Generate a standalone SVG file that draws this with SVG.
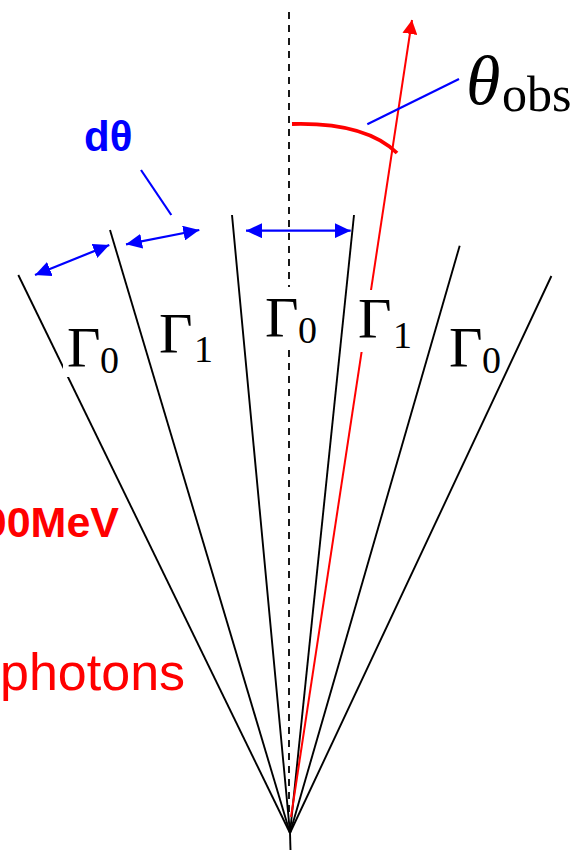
<svg xmlns="http://www.w3.org/2000/svg" width="574" height="850" viewBox="0 0 574 850">
  <style>
    .ray { stroke: #000; stroke-width: 1.9; fill: none; }
    .axis { stroke: #000; stroke-width: 1.8; stroke-dasharray: 7 6; fill: none; }
    .dim { stroke: #0000ff; stroke-width: 2.2; fill: none; }
    .gam { font-family: "Liberation Serif", "DejaVu Serif", serif; font-size: 58px; fill: #000; }
    .sub { font-family: "Liberation Serif", "DejaVu Serif", serif; font-size: 38px; fill: #000; }
    .mask { fill: #fff; }
    .red { fill: #ff0000; font-family: "Liberation Sans", Arial, sans-serif; }
  </style>
  <defs>
    <marker id="bluehead" markerUnits="userSpaceOnUse" markerWidth="16" markerHeight="15" refX="16" refY="7.5" orient="auto-start-reverse" viewBox="0 0 16 15">
      <path d="M0,0 L16,7.5 L0,15 z" fill="#0000ff"/>
    </marker>
    <marker id="redhead" markerUnits="userSpaceOnUse" markerWidth="14" markerHeight="15" refX="14" refY="7.5" orient="auto" viewBox="0 0 14 15">
      <path d="M0,0 L14,7.5 L0,15 z" fill="#ff0000"/>
    </marker>
  </defs>
  <rect width="574" height="850" fill="#fff"/>

  <g id="connectors">
    <line class="axis" x1="289" y1="12" x2="289" y2="816"/>
    <line class="ray" x1="18.3" y1="275" x2="290" y2="833"/>
    <line class="ray" x1="110" y1="230" x2="290" y2="833"/>
    <line class="ray" x1="232" y1="215" x2="290" y2="833"/>
    <line class="ray" x1="354" y1="215" x2="290" y2="833"/>
    <line class="ray" x1="459.7" y1="245.7" x2="290" y2="833"/>
    <line class="ray" x1="551.4" y1="276" x2="290" y2="833"/>
    <line class="ray" x1="290" y1="833" x2="290.5" y2="850"/>
    <line x1="291" y1="817" x2="412" y2="20" stroke="#ff0000" stroke-width="2" marker-end="url(#redhead)"/>
    <path d="M292,124 Q365,122 397,153" stroke="#ff0000" stroke-width="3.8" fill="none"/>
    <line class="dim" x1="367.3" y1="124.3" x2="459" y2="79"/>
    <line class="dim" x1="35" y1="275" x2="109.3" y2="245" marker-start="url(#bluehead)" marker-end="url(#bluehead)"/>
    <line class="dim" x1="126" y1="244.3" x2="199.3" y2="230" marker-start="url(#bluehead)" marker-end="url(#bluehead)"/>
    <line class="dim" x1="246" y1="230.7" x2="350.7" y2="230.7" marker-start="url(#bluehead)" marker-end="url(#bluehead)"/>
    <line class="dim" x1="141" y1="170" x2="171.3" y2="215"/>
  </g>

  <g id="label-gamma0-left">
    <rect class="mask" x="63" y="318" width="60" height="59"/>
    <text class="gam" x="67" y="366.7">Γ</text>
    <text class="sub" x="100" y="373">0</text>
  </g>
  <g id="label-gamma1-left">
    <text class="gam" x="159" y="352.7">Γ</text>
    <text class="sub" x="194" y="361.7">1</text>
  </g>
  <g id="label-gamma0-center">
    <rect class="mask" x="263" y="287" width="57" height="60"/>
    <text class="gam" x="265" y="336.7">Γ</text>
    <text class="sub" x="298" y="343.3">0</text>
  </g>
  <g id="label-gamma1-right">
    <rect class="mask" x="357" y="290" width="56" height="62"/>
    <text class="gam" x="358" y="338">Γ</text>
    <text class="sub" x="393" y="348">1</text>
  </g>
  <g id="label-gamma0-right">
    <text class="gam" x="449" y="366.7">Γ</text>
    <text class="sub" x="482" y="373">0</text>
  </g>

  <g id="label-theta-obs">
    <text x="466" y="104" font-family="Liberation Serif, DejaVu Serif, serif" font-style="italic" font-size="70">θ</text>
    <text x="502" y="111" font-family="Liberation Serif, DejaVu Serif, serif" font-size="50">obs</text>
  </g>
  <g id="label-dtheta">
    <text x="84" y="151" font-family="Liberation Sans, Arial, sans-serif" font-weight="bold" font-size="42" fill="#0000ff">dθ</text>
  </g>
  <g id="label-energy">
    <text class="red" x="119" y="537" text-anchor="end" font-weight="bold" font-size="43">00MeV</text>
  </g>
  <g id="label-photons">
    <text class="red" x="0" y="690" font-size="52">photons</text>
  </g>
</svg>
